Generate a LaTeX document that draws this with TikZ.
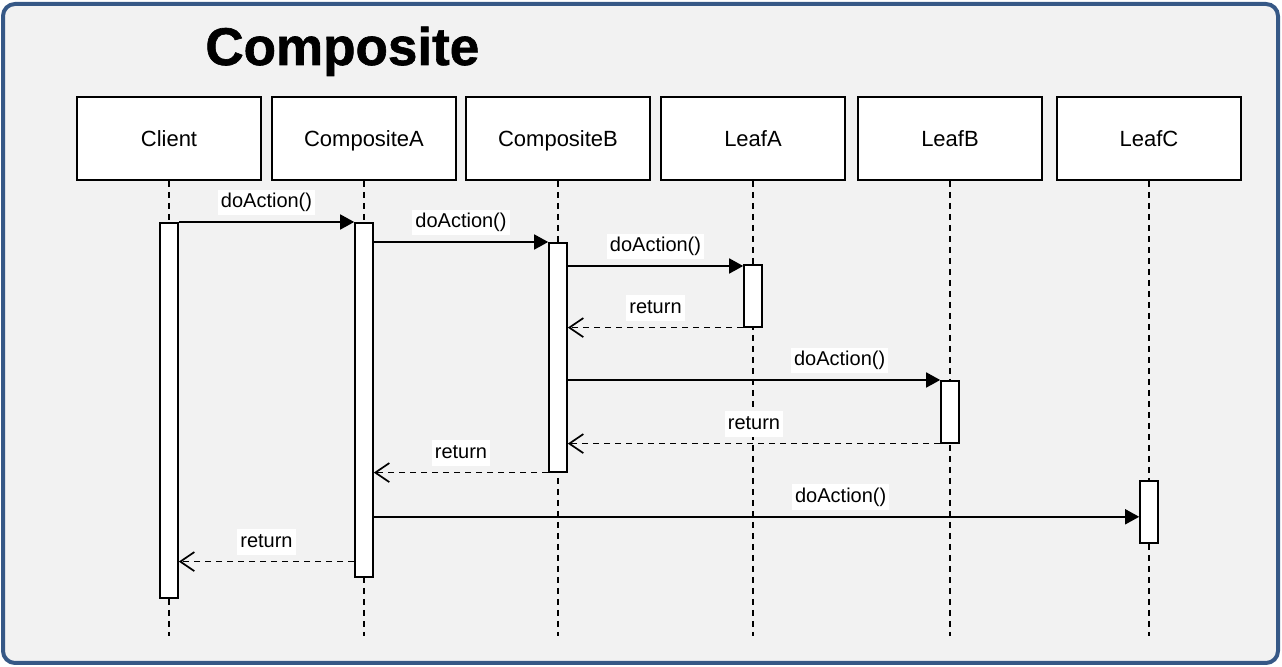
\documentclass[tikz,border=0pt]{standalone}
\usepackage{fontspec}
\setmainfont{Liberation Sans}
\newfontfamily\heavyfont{Liberation Sans Bold}[FakeBold=1.2]
\usetikzlibrary{arrows.meta}
\definecolor{frameblue}{RGB}{54,88,134}
\definecolor{panelgray}{RGB}{242,242,242}
\tikzset{
  actor/.style={draw, line width=0.85pt, fill=white, minimum width=92pt, minimum height=41.5pt, text height=9pt, text depth=1.2pt, font=\fontsize{11}{13}\selectfont},
  bar/.style={draw, line width=0.8pt, fill=white, anchor=north, minimum width=9pt, inner sep=0},
  life/.style={line width=0.85pt, dash pattern=on 3pt off 2.5pt},
  call/.style={line width=0.8pt, -{Triangle[length=7pt,width=7.5pt]}},
  ret/.style={line width=0.85pt, dash pattern=on 3pt off 2.5pt, -{Straight Barb[length=7pt,width=9.5pt]}},
  lbl/.style={fill=white, inner sep=1.5pt, text height=7.6pt, text depth=2.2pt, font=\fontsize{10}{12}\selectfont},
}
\begin{document}
\begin{tikzpicture}[x=0.5pt,y=-0.5pt]
	\useasboundingbox (0,0) rectangle (1282,667);
	\draw[frameblue, line width=2pt, fill=panelgray, rounded corners=6pt] (3,4) rectangle (1278,663);
	\node[anchor=base west, inner sep=0, font=\heavyfont\fontsize{26.5}{30}\selectfont] (title) at (205,65) {Composite};
	% objects and lifelines
	\foreach \x/\name/\txt in {169/client/Client, 364/compA/CompositeA, 558/compB/CompositeB, 753/leafA/LeafA, 950/leafB/LeafB, 1149/leafC/LeafC}
		\node[actor] (\name) at (\x,138.5) {\txt};
	\coordinate (bottom) at (0,636);
	\foreach \name in {client,compA,compB,leafA,leafB,leafC}
		\draw[life] (\name.south) -- (\name.south |- bottom);
	% activation bars
	\node[bar, minimum height=187.5pt] (barClient) at (169,222) {};
	\node[bar, minimum height=177pt] (barCompA) at (364,222) {};
	\node[bar, minimum height=114.5pt] (barCompB) at (558,242) {};
	\node[bar, minimum height=31pt] (barLeafA) at (753,264) {};
	\node[bar, minimum height=31pt] (barLeafB) at (950,380) {};
	\node[bar, minimum height=31pt] (barLeafC) at (1149,480) {};
	% messages
	\coordinate (toLeafA) at ([yshift=-1pt]barLeafA.north west);
	\coordinate (toLeafC) at ([yshift=-2.5pt]barLeafC.west);
	\coordinate (backClient) at ([yshift=8pt]barCompA.south west);
	\draw[call] (barClient.north east) -- node[lbl, above=3pt] {doAction()} (barCompA.north west);
	\draw[call] (barCompA.east |- barCompB.north) -- node[lbl, above=3pt] {doAction()} (barCompB.north west);
	\draw[call] (barCompB.east |- toLeafA) -- node[lbl, above=3pt] {doAction()} (toLeafA);
	\draw[ret] (barLeafA.south west) -- node[lbl, above=3pt] {return} (barCompB.east |- barLeafA.south);
	\draw[call] (barCompB.east |- barLeafB.north) -- node[lbl, above=3pt, pos=0.73] {doAction()} (barLeafB.north west);
	\draw[ret] (barLeafB.south west) -- node[lbl, above=3pt] {return} (barCompB.east |- barLeafB.south);
	\draw[ret] (barCompB.south west) -- node[lbl, above=3pt] {return} (barCompA.east |- barCompB.south);
	\draw[call] (barCompA.east |- toLeafC) -- node[lbl, above=3pt, pos=0.61] {doAction()} (toLeafC);
	\draw[ret] (backClient) -- node[lbl, above=3pt] {return} (barClient.east |- backClient);
\end{tikzpicture}
\end{document}
